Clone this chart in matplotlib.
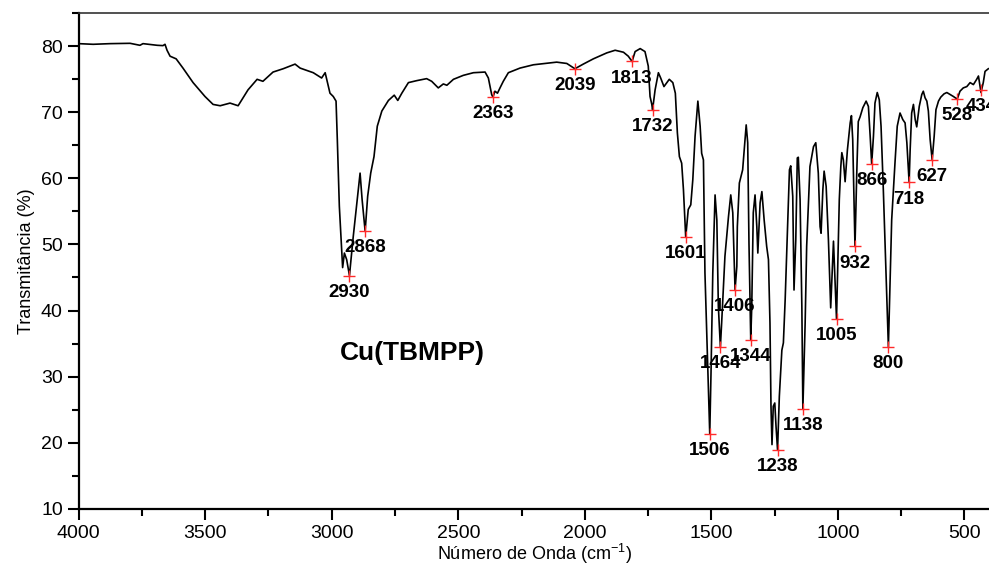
import matplotlib
matplotlib.use("Agg")
import matplotlib.pyplot as plt
from matplotlib.ticker import MultipleLocator

plt.rcParams['font.family'] = ['Liberation Sans', 'DejaVu Sans']
plt.rcParams['mathtext.fontset'] = 'custom'
plt.rcParams['mathtext.rm'] = 'Liberation Sans'

# spectrum (wavenumber cm-1, transmittance %)
wavenumber = [4000, 3943, 3876, 3797, 3758, 3746, 3690, 3667, 3659, 3651, 3639, 3615,
              3588, 3548, 3501, 3469, 3441, 3402, 3370, 3331, 3295, 3272, 3232, 3192,
              3145, 3125, 3073, 3040, 3026, 3007, 2994, 2983, 2978, 2970, 2960, 2957,
              2950, 2941, 2930, 2915, 2899, 2888, 2880, 2868, 2858, 2846, 2833, 2820,
              2802, 2776, 2753, 2739, 2723, 2697, 2664, 2625, 2605, 2579, 2559, 2545,
              2519, 2480, 2440, 2394, 2381, 2368, 2363, 2355, 2345, 2335, 2322, 2302,
              2256, 2203, 2111, 2071, 2039, 2006, 1966, 1913, 1880, 1847, 1828, 1813,
              1801, 1781, 1762, 1749, 1742, 1735, 1732, 1722, 1709, 1700, 1687, 1666,
              1652, 1642, 1634, 1626, 1617, 1610, 1601, 1591, 1581, 1573, 1564, 1553,
              1544, 1538, 1531, 1525, 1506, 1501, 1494, 1485, 1478, 1472, 1464, 1459,
              1446, 1432, 1423, 1415, 1410, 1406, 1399, 1397, 1389, 1376, 1369, 1362,
              1356, 1351, 1344, 1340, 1334, 1327, 1320, 1316, 1307, 1300, 1291, 1281,
              1274, 1268, 1264, 1260, 1255, 1249, 1244, 1238, 1231, 1221, 1215, 1208,
              1202, 1191, 1186, 1178, 1173, 1166, 1160, 1156, 1149, 1142, 1138, 1129,
              1123, 1110, 1096, 1087, 1077, 1070, 1066, 1059, 1054, 1046, 1037, 1028,
              1017, 1005, 994, 988, 984, 978, 971, 962, 951, 946, 941, 936, 932, 925,
              919, 912, 901, 888, 879, 872, 866, 859, 853, 844, 836, 829, 820, 800,
              787, 774, 765, 754, 743, 734, 727, 718, 714, 708, 701, 694, 688, 678,
              668, 662, 655, 648, 642, 635, 627, 619, 612, 602, 593, 580, 569, 556,
              543, 528, 517, 504, 490, 477, 464, 451, 444, 434, 425, 418, 405]
transmittance = [80.4, 80.3, 80.4, 80.45, 80.15, 80.4, 80.15, 80.1, 80.3, 79.4, 78.5, 78.1,
                 76.7, 74.5, 72.4, 71.2, 71.0, 71.4, 71.0, 73.4, 75.0, 74.7, 76.1, 76.6,
                 77.3, 76.7, 76.0, 75.2, 76.0, 72.9, 72.4, 71.7, 65.9, 55.8, 48.7, 46.5,
                 48.7, 47.7, 45.3, 51.2, 56.8, 60.8, 56.8, 52.0, 57.3, 60.8, 63.3, 67.9,
                 70.2, 71.8, 72.6, 71.8, 72.9, 74.5, 74.8, 75.1, 74.7, 73.7, 74.3, 74.1,
                 75.0, 75.6, 76.0, 76.1, 75.2, 72.7, 72.3, 73.2, 72.9, 73.7, 74.7, 76.0,
                 76.7, 77.2, 77.6, 77.4, 76.6, 77.3, 78.1, 79.0, 79.4, 79.1, 78.5, 77.7,
                 79.2, 79.65, 79.2, 77.0, 72.4, 71.2, 70.4, 73.4, 76.0, 75.2, 73.9, 75.0,
                 74.5, 72.9, 66.9, 63.3, 62.3, 58.3, 51.1, 55.3, 56.0, 59.8, 66.4, 71.7,
                 67.9, 63.8, 62.8, 45.7, 21.3, 30.6, 45.7, 57.5, 53.7, 40.6, 34.5, 38.1,
                 48.2, 54.2, 57.5, 54.8, 48.2, 43.1, 46.7, 52.7, 59.3, 61.3, 64.8, 68.1,
                 65.4, 50.2, 35.6, 40.6, 54.8, 57.5, 52.7, 48.7, 56.3, 58.0, 53.7, 49.7,
                 47.7, 38.1, 25.5, 19.7, 25.5, 26.0, 22.4, 18.9, 27.0, 34.0, 35.1, 41.6,
                 48.7, 61.3, 61.9, 57.3, 43.1, 50.7, 63.1, 63.2, 56.8, 40.6, 25.1, 38.1,
                 49.7, 61.8, 64.8, 65.4, 60.8, 52.7, 51.7, 58.3, 61.1, 58.8, 50.7, 40.4,
                 50.5, 38.7, 56.8, 61.8, 63.9, 62.8, 59.5, 64.3, 68.4, 69.5, 65.9, 56.8, 49.7, 60.8,
                 68.6, 69.3, 70.7, 71.7, 70.9, 66.4, 62.2, 66.4, 71.4, 73.0, 71.9, 67.9, 58.3, 34.5,
                 53.7, 62.3, 67.9, 69.9, 68.9, 68.4, 65.4, 59.4, 64.3, 69.9, 71.2, 68.9, 67.8, 70.9,
                 72.7, 73.2, 72.2, 71.7, 70.2, 65.9, 62.8, 66.4, 70.4, 71.7, 72.3, 72.8, 73.0, 72.7,
                 72.4, 72.0, 73.2, 73.7, 73.9, 74.5, 74.2, 75.0, 75.5, 73.0, 74.5, 76.2, 76.6]

# picked peaks
peak_wn = [2930, 2868, 2363, 2039, 1813, 1732, 1601, 1506, 1464, 1406, 1344, 1238,
           1138, 1005, 932, 866, 800, 718, 627, 528, 434]
peak_t = [45.3, 52.0, 72.3, 76.6, 77.7, 70.4, 51.1, 21.3, 34.5, 43.1, 35.6, 18.9,
          25.1, 38.7, 49.7, 62.2, 34.5, 59.4, 62.8, 72.0, 73.4]

fig = plt.figure(figsize=(9.89, 5.69), dpi=100)
ax = fig.add_axes([0.0796, 0.106, 0.921, 0.8707])

ax.plot(wavenumber, transmittance, color='black', lw=1.2)
ax.plot(peak_wn, peak_t, ls='none', marker='+', ms=9, mew=1.0, color='#ff2a2a')
for w, t in zip(peak_wn, peak_t):
    ax.annotate(str(w), (w, t), xytext=(0, -12), textcoords='offset points',
                ha='center', va='center', fontsize=13.5, fontweight='bold',
                annotation_clip=False)

ax.text(2683, 33.6, 'Cu(TBMPP)', ha='center', va='center', fontsize=19, fontweight='bold')

ax.set_xlim(4000, 400)
ax.set_ylim(10, 85)
ax.xaxis.set_major_locator(MultipleLocator(500))
ax.xaxis.set_minor_locator(MultipleLocator(250))
ax.yaxis.set_major_locator(MultipleLocator(10))
ax.yaxis.set_minor_locator(MultipleLocator(5))
ax.tick_params(which='major', direction='out', length=8, width=1.5, labelsize=14)
ax.tick_params(which='minor', direction='out', length=5, width=1.5)
ax.tick_params(top=False, right=False, which='both')

for s in ['left', 'bottom']:
    ax.spines[s].set_linewidth(1.6)
ax.spines['top'].set_linewidth(1.2)
ax.spines['top'].set_color('#333333')
ax.spines['right'].set_visible(False)

ax.set_xlabel('Número de Onda (cm$^{-1}$)', fontsize=13, labelpad=0)
ax.set_ylabel('Transmitância (%)', fontsize=13, labelpad=4)

fig.savefig('out.png', dpi=100)
